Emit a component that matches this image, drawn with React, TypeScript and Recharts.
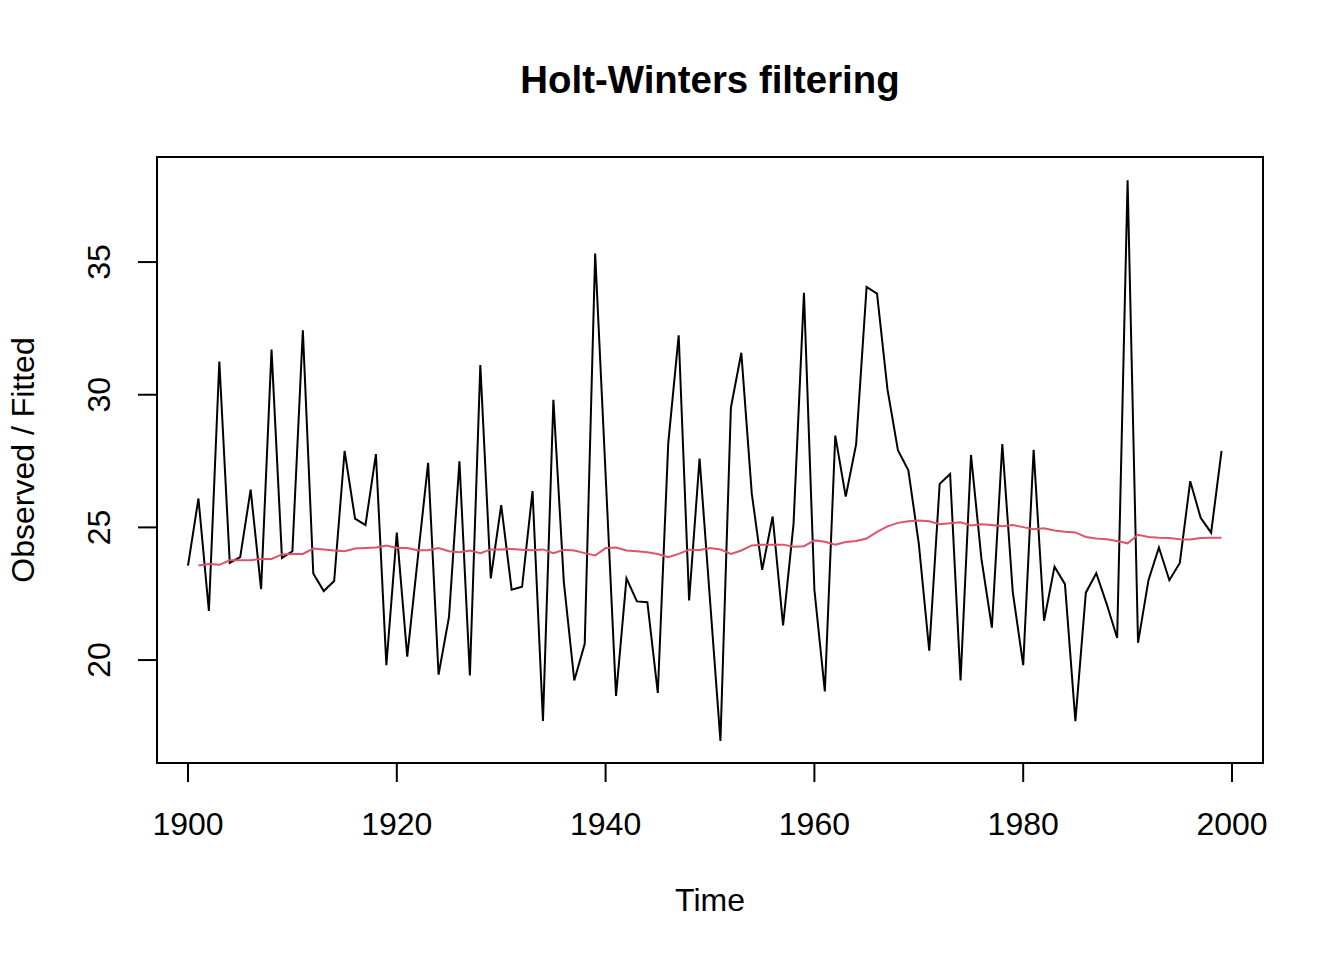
import React from 'react';
import { LineChart, Line, XAxis, YAxis, ReferenceArea } from 'recharts';

const startYear = 1900;

const observed: number[] = [
  23.56, 26.09, 21.85, 31.25, 23.66, 23.88, 26.42, 22.67, 31.7, 23.85,
  24.1, 32.43, 23.26, 22.6, 22.98, 27.88, 25.33, 25.09, 27.76, 19.81,
  24.8, 20.13, 23.8, 27.43, 19.45, 21.63, 27.49, 19.42, 31.12, 23.08,
  25.84, 22.65, 22.76, 26.37, 17.7, 29.81, 22.94, 19.23, 20.61, 35.32,
  27.0, 18.65, 23.08, 22.21, 22.18, 18.76, 28.17, 32.24, 22.25, 27.59,
  22.27, 16.95, 29.51, 31.58, 26.28, 23.4, 25.41, 21.31, 25.12, 33.84,
  22.65, 18.82, 28.46, 26.16, 28.14, 34.06, 33.81, 30.2, 27.91, 27.15,
  24.39, 20.35, 26.64, 27.01, 19.23, 27.73, 23.81, 21.22, 28.14, 22.57,
  19.81, 27.92, 21.48, 23.52, 22.86, 17.7, 22.54, 23.27, 22.11, 20.83,
  38.08, 20.65, 23.01, 24.24, 23.01, 23.66, 26.74, 25.36, 24.8, 27.88,
];

// fitted values start one year later (1901)
const fittedStartYear = 1901;
const fitted: number[] = [
  23.56, 23.62, 23.59, 23.76, 23.76, 23.76, 23.81, 23.81, 23.98, 24.0,
  24.0, 24.2, 24.17, 24.13, 24.1, 24.2, 24.22, 24.24, 24.32, 24.22,
  24.22, 24.14, 24.14, 24.22, 24.1, 24.06, 24.13, 24.03, 24.17, 24.17,
  24.19, 24.16, 24.14, 24.17, 24.03, 24.16, 24.13, 24.03, 23.94, 24.22,
  24.24, 24.13, 24.1, 24.06, 24.0, 23.88, 24.0, 24.16, 24.15, 24.22,
  24.17, 24.0, 24.13, 24.32, 24.35, 24.35, 24.35, 24.27, 24.29, 24.51,
  24.46, 24.35, 24.45, 24.49, 24.58, 24.83, 25.04, 25.17, 25.23, 25.26,
  25.23, 25.12, 25.16, 25.19, 25.07, 25.12, 25.09, 25.04, 25.09, 25.01,
  24.93, 24.97, 24.88, 24.84, 24.81, 24.64, 24.58, 24.55, 24.49, 24.4,
  24.72, 24.64, 24.61, 24.6, 24.55, 24.54, 24.6, 24.61, 24.61,
];

const xTicks = [1900, 1920, 1940, 1960, 1980, 2000];
const yTicks = [20, 25, 30, 35];
const xDomain: [number, number] = [1897.03, 2002.97];
const yDomain: [number, number] = [16.12, 38.96];

const titleText = 'Holt-Winters filtering';
const xLabelText = 'Time';
const yLabelText = 'Observed / Fitted';

const data = observed.map((v, i) => {
  const year = startYear + i;
  const fi = year - fittedStartYear;
  return {
    year,
    observed: v,
    fitted: fi >= 0 && fi < fitted.length ? fitted[fi] : null,
  };
});

const FONT = '"Liberation Sans", Arial, Helvetica, sans-serif';

const YTick = (props: any) => {
  const { x, y, payload } = props;
  return (
    <text
      x={x}
      y={y}
      transform={`rotate(-90, ${x}, ${y})`}
      textAnchor="middle"
      fontSize={32}
      fontFamily={FONT}
      fill="#000"
    >
      {payload.value}
    </text>
  );
};

export default function App() {
  return (
    <div style={{ position: 'absolute', left: 0, top: 0, width: 1344, height: 960, background: '#fff' }}>
      <LineChart
        width={1344}
        height={960}
        data={data}
        margin={{ top: 157, right: 81, bottom: 0, left: 0 }}
      >
        <XAxis
          dataKey="year"
          type="number"
          domain={xDomain}
          ticks={xTicks}
          interval={0}
          allowDataOverflow
          height={197}
          tickSize={19}
          tickMargin={30}
          axisLine={false}
          tickLine={{ stroke: '#000', strokeWidth: 2 }}
          tick={{ fill: '#000', fontSize: 32, fontFamily: FONT }}
        />
        <YAxis
          type="number"
          domain={yDomain}
          ticks={yTicks}
          interval={0}
          allowDataOverflow
          width={157}
          tickSize={19}
          tickMargin={28}
          axisLine={false}
          tickLine={{ stroke: '#000', strokeWidth: 2 }}
          tick={<YTick />}
        />
        <ReferenceArea
          x1={xDomain[0]}
          x2={xDomain[1]}
          y1={yDomain[0]}
          y2={yDomain[1]}
          fill="none"
          fillOpacity={0}
          stroke="#000"
          strokeWidth={2}
          ifOverflow="visible"
        />
        <Line
          type="linear"
          dataKey="observed"
          stroke="#000000"
          strokeWidth={2}
          dot={false}
          activeDot={false}
          isAnimationActive={false}
        />
        <Line
          type="linear"
          dataKey="fitted"
          stroke="#DF536B"
          strokeWidth={2}
          dot={false}
          activeDot={false}
          isAnimationActive={false}
        />
      </LineChart>
      <svg
        width={1344}
        height={960}
        style={{ position: 'absolute', left: 0, top: 0, pointerEvents: 'none' }}
      >
        <text x={710} y={93} textAnchor="middle" fontSize={38.4} fontWeight="bold" fontFamily={FONT} fill="#000">
          {titleText}
        </text>
        <text x={710} y={911} textAnchor="middle" fontSize={32} fontFamily={FONT} fill="#000">
          {xLabelText}
        </text>
        <text x={34} y={460} transform="rotate(-90, 34, 460)" textAnchor="middle" fontSize={32} fontFamily={FONT} fill="#000">
          {yLabelText}
        </text>
      </svg>
    </div>
  );
}
